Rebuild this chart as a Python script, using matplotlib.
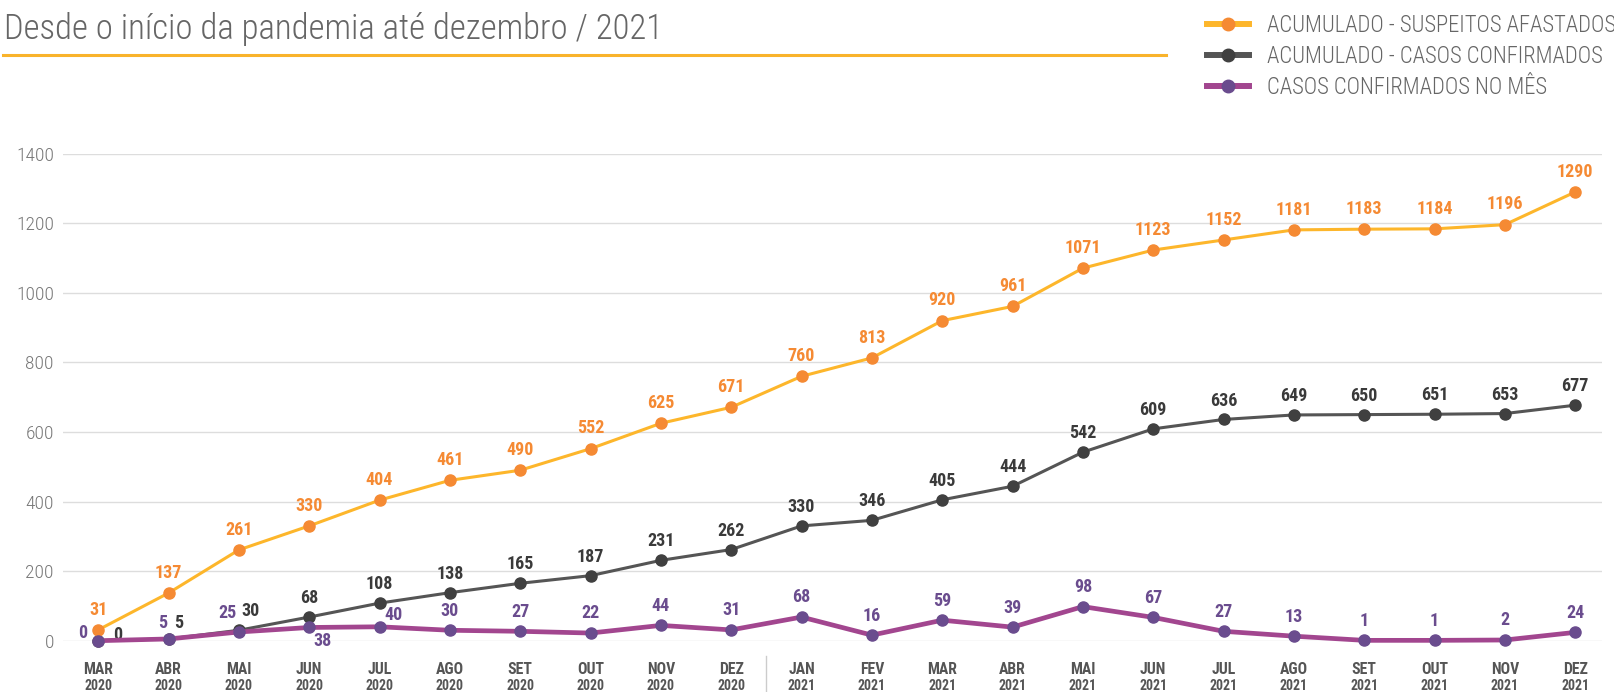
import matplotlib

matplotlib.use("Agg")
import matplotlib.pyplot as plt  # noqa: E402
import matplotlib.transforms as mtransforms  # noqa: E402

plt.rcParams["font.family"] = ["Roboto Condensed", "DejaVu Sans"]

# --- dados ---
months = ["MAR", "ABR", "MAI", "JUN", "JUL", "AGO", "SET", "OUT", "NOV", "DEZ",
          "JAN", "FEV", "MAR", "ABR", "MAI", "JUN", "JUL", "AGO", "SET", "OUT", "NOV", "DEZ"]
years = ["2020"] * 10 + ["2021"] * 12
suspeitos_acum = [31, 137, 261, 330, 404, 461, 490, 552, 625, 671, 760, 813, 920, 961,
                  1071, 1123, 1152, 1181, 1183, 1184, 1196, 1290]
confirmados_acum = [0, 5, 30, 68, 108, 138, 165, 187, 231, 262, 330, 346, 405, 444,
                    542, 609, 636, 649, 650, 651, 653, 677]
confirmados_mes = [0, 5, 25, 38, 40, 30, 27, 22, 44, 31, 68, 16, 59, 39, 98, 67, 27,
                   13, 1, 1, 2, 24]
yticks = [0, 200, 400, 600, 800, 1000, 1200, 1400]
labels = ["ACUMULADO - SUSPEITOS AFASTADOS", "ACUMULADO - CASOS CONFIRMADOS",
          "CASOS CONFIRMADOS NO MÊS"]
title = "Desde o início da pandemia até dezembro / 2021"

ORANGE_LINE, ORANGE = "#FDB62B", "#F58A33"
GRAY_LINE, GRAY, GRAY_TXT = "#555555", "#404040", "#3A3A3A"
PURPLE_LINE, PURPLE = "#A2468F", "#6A4C8E"

W, H = 1615, 692
fig = plt.figure(figsize=(W / 100, H / 100), dpi=100)
ax = fig.add_axes([63 / W, 1 - 640.7 / H, (1602 - 63) / W, (640.7 - 153.7) / H])

x = list(range(len(months)))
l_gray, = ax.plot(x, confirmados_acum, "-o", color=GRAY_LINE, lw=2.2, ms=8,
                  mfc=GRAY, mec=GRAY, zorder=3, clip_on=False)
l_orange, = ax.plot(x, suspeitos_acum, "-o", color=ORANGE_LINE, lw=2.2, ms=8,
                    mfc=ORANGE, mec=ORANGE, zorder=4, clip_on=False)
l_purple, = ax.plot(x, confirmados_mes, "-o", color=PURPLE_LINE, lw=3.4, ms=8,
                    mfc=PURPLE, mec=PURPLE, zorder=5, clip_on=False)

ax.set_xlim(-0.5, 21.38)
ax.set_ylim(0, 1400)
ax.set_yticks(yticks)
ax.set_yticklabels([str(v) for v in yticks], fontweight="light")
ax.tick_params(axis="y", length=0, pad=6.5, labelsize=14, labelcolor="#777777")
ax.set_xticks([])
ax.grid(axis="y", color="#DDDDDD", lw=1)
ax.set_axisbelow(True)
for s in ax.spines.values():
    s.set_visible(False)

# rótulos de valor
lab_kw = dict(textcoords="offset points", ha="center", fontsize=13, fontweight="bold",
              annotation_clip=False)
for i, v in enumerate(suspeitos_acum):
    ax.annotate(str(v), (i, v), xytext=(0, 11), va="baseline", color=ORANGE, **lab_kw)

gray_off = {0: (13.7, 4, "center"), 1: (7.2, 8, "baseline"), 2: (8.6, 10, "baseline")}
purple_off = {0: (-10.8, 5.5, "center"), 1: (-4.3, 8, "baseline"),
              2: (-8, 10, "baseline"), 3: (9.4, -9.4, "center"),
              4: (10, 8.6, "center")}
for i, v in enumerate(confirmados_acum):
    dx, dy, va = gray_off.get(i, (0, 10, "baseline"))
    ax.annotate(str(v), (i, v), xytext=(dx, dy), va=va, color=GRAY_TXT, **lab_kw)
for i, v in enumerate(confirmados_mes):
    dx, dy, va = purple_off.get(i, (0, 10.5, "baseline"))
    ax.annotate(str(v), (i, v), xytext=(dx, dy), va=va, color=PURPLE, **lab_kw)

# eixo x: mês / ano
for i, (m, y) in enumerate(zip(months, years)):
    ax.annotate(m, (i, 0), xycoords=("data", "axes fraction"), xytext=(0, -21),
                textcoords="offset points", ha="center", va="center", fontsize=11.3,
                fontweight="bold", color="#555555", annotation_clip=False)
    ax.annotate(y, (i, 0), xycoords=("data", "axes fraction"), xytext=(0, -32.6),
                textcoords="offset points", ha="center", va="center", fontsize=10,
                fontweight="bold", color="#555555", annotation_clip=False)

trans = mtransforms.blended_transform_factory(ax.transData, ax.transAxes)
ax.plot([9.5, 9.5], [-0.031, -0.11], transform=trans, color="#CCCCCC", lw=1,
        clip_on=False)

# título e linha
fig.text(4 / W, 1 - 29 / H, title, fontsize=25, fontweight="light", color="#666666",
         va="center", ha="left")
fig.add_artist(plt.Line2D([3 / W, 1166 / W], [1 - 54.5 / H, 1 - 54.5 / H],
                          color="#F9B32B", lw=2.2))

# legenda
leg = fig.legend([l_orange, l_gray, l_purple], labels, loc="upper left",
                 bbox_to_anchor=(1207 / W, 1 - 14 / H), frameon=False,
                 prop={"size": 16.3, "weight": "light"},
                 handlelength=1.85, handletextpad=0.78, labelspacing=0.36,
                 borderaxespad=0, borderpad=0)
for h in leg.legend_handles:
    h.set_linewidth(4.3)
    h.set_markersize(9)
for t in leg.get_texts():
    t.set_color("#666666")

fig.savefig("out.png", dpi=100)
